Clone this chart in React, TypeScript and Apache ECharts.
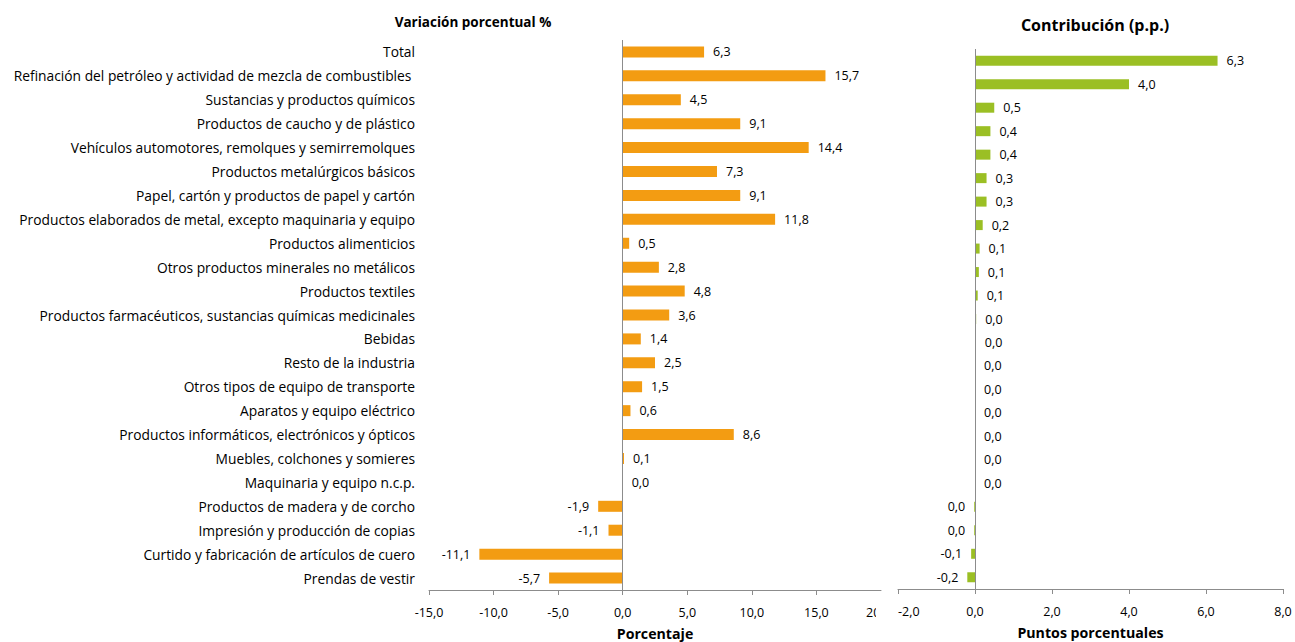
import React, { useEffect, useRef } from "react";
import * as echarts from "echarts";

const categories = [
  "Total",
  "Refinación del petróleo y actividad de mezcla de combustibles ",
  "Sustancias y productos químicos",
  "Productos de caucho y de plástico",
  "Vehículos automotores, remolques y semirremolques",
  "Productos metalúrgicos básicos",
  "Papel, cartón y productos de papel y cartón",
  "Productos elaborados de metal, excepto maquinaria y equipo",
  "Productos alimenticios",
  "Otros productos minerales no metálicos",
  "Productos textiles",
  "Productos farmacéuticos, sustancias químicas medicinales",
  "Bebidas",
  "Resto de la industria",
  "Otros tipos de equipo de transporte",
  "Aparatos y equipo eléctrico",
  "Productos informáticos, electrónicos y ópticos",
  "Muebles, colchones y somieres",
  "Maquinaria y equipo n.c.p.",
  "Productos de madera y de corcho",
  "Impresión y producción de copias",
  "Curtido y fabricación de artículos de cuero",
  "Prendas de vestir",
];

const variacion = [
  6.3, 15.7, 4.5, 9.1, 14.4, 7.3, 9.1, 11.8, 0.5, 2.8, 4.8, 3.6, 1.4, 2.5, 1.5,
  0.6, 8.6, 0.1, 0.0, -1.9, -1.1, -11.1, -5.7,
];

const contribucion = [
  6.3, 4.0, 0.5, 0.4, 0.4, 0.3, 0.3, 0.2, 0.12, 0.1, 0.07, 0.03, 0.02, 0.0,
  0.0, 0.0, 0.0, 0.0, 0.0, -0.02, -0.02, -0.1, -0.2,
];

const leftTicks = [-15, 20, 5];
const rightTicks = [-2, 8, 2];

const FONT = "'Open Sans', 'Noto Sans', sans-serif";
const ORANGE = "#F39C12";
const GREEN = "#9BBF24";
const AXIS = "#8C8C8C";

function fmt(v: number): string {
  const r = Math.round(v * 10) / 10;
  if (r === 0) return "0,0";
  return r.toFixed(1).replace(".", ",");
}

export default function App() {
  const ref = useRef<HTMLDivElement>(null);

  useEffect(() => {
    if (!ref.current) return;
    const chart = echarts.init(ref.current, undefined, { renderer: "svg" });

    const mkData = (vals: number[]) =>
      vals.map((v) => ({
        value: v,
        label: { position: v < 0 ? "left" : "right" },
      }));

    const valueAxis = (gridIndex: number, ticks: number[], name: string, extraLabel: any) => ({
      gridIndex,
      type: "value",
      min: ticks[0],
      max: ticks[1],
      interval: ticks[2],
      splitLine: { show: false },
      splitArea: { show: false },
      axisLine: { show: true, onZero: false, lineStyle: { color: AXIS } },
      axisTick: { show: true, inside: false, length: 5, lineStyle: { color: AXIS } },
      axisLabel: {
        formatter: (v: number) => fmt(v),
        fontSize: 12.5,
        color: "#000",
        fontFamily: FONT,
        margin: 16,
        ...extraLabel,
      },
      name,
      nameLocation: "middle",
      nameGap: 36,
      nameTextStyle: { fontWeight: "bold", fontSize: 14.2, color: "#000", fontFamily: FONT },
    });

    const option: any = {
      animation: false,
      backgroundColor: "#ffffff",
      textStyle: { fontFamily: FONT },
      grid: [
        { show: false, outerBoundsMode: "none", left: 429, right: 414, top: 40, bottom: 52, containLabel: false },
        { show: false, outerBoundsMode: "none", left: 898, right: 12, top: 49, bottom: 53, containLabel: false },
      ],
      xAxis: [
        valueAxis(0, leftTicks, "Porcentaje", { showMaxLabel: false }),
        valueAxis(1, rightTicks, "Puntos porcentuales", { alignMinLabel: "left" }),
      ],
      yAxis: [
        {
          gridIndex: 0,
          type: "category",
          inverse: true,
          data: categories,
          splitLine: { show: false },
          axisLine: { show: false, onZero: false },
          axisTick: { show: false },
          axisLabel: {
            color: "#000",
            fontSize: 13.8,
            fontFamily: FONT,
            margin: 14,
          },
        },
        {
          gridIndex: 1,
          type: "category",
          inverse: true,
          data: categories,
          splitLine: { show: false },
          axisLine: { show: false },
          axisTick: { show: false },
          axisLabel: { show: false },
        },
      ],
      series: [
        {
          type: "bar",
          xAxisIndex: 0,
          yAxisIndex: 0,
          data: mkData(variacion),
          barWidth: 11,
          itemStyle: { color: ORANGE },
          label: {
            show: true,
            distance: 9,
            color: "#000",
            fontSize: 12.5,
            fontFamily: FONT,
            formatter: (p: any) => fmt(p.value),
          },
          markLine: {
            silent: true,
            symbol: "none",
            label: { show: false },
            lineStyle: { color: AXIS, type: "solid", width: 1 },
            data: [{ xAxis: 0 }],
          },
        },
        {
          type: "bar",
          xAxisIndex: 1,
          yAxisIndex: 1,
          data: mkData(contribucion),
          barWidth: 10,
          itemStyle: { color: GREEN },
          label: {
            show: true,
            distance: 9,
            color: "#000",
            fontSize: 12.5,
            fontFamily: FONT,
            formatter: (p: any) => fmt(p.value),
          },
          markLine: {
            silent: true,
            symbol: "none",
            label: { show: false },
            lineStyle: { color: AXIS, type: "solid", width: 1 },
            data: [{ xAxis: 0 }],
          },
        },
      ],
      graphic: [
        {
          type: "text",
          z: 100,
          x: 866,
          y: 612,
          style: {
            text: "20",
            fontSize: 12.5,
            fontFamily: FONT,
            fill: "#000",
            align: "left",
            verticalAlign: "middle",
          },
        },
        {
          type: "rect",
          z: 101,
          shape: { x: 876, y: 600, width: 11, height: 24 },
          style: { fill: "#ffffff" },
        },
        {
          type: "text",
          z: 102,
          x: 473,
          y: 22,
          style: {
            text: "Variación porcentual %",
            fontSize: 13.5,
            fontWeight: "bold",
            fontFamily: FONT,
            fill: "#000",
            align: "center",
            verticalAlign: "middle",
          },
        },
        {
          type: "text",
          z: 102,
          x: 1095,
          y: 25,
          style: {
            text: "Contribución (p.p.)",
            fontSize: 16,
            fontWeight: "bold",
            fontFamily: FONT,
            fill: "#000",
            align: "center",
            verticalAlign: "middle",
          },
        },
      ],
    };

    chart.setOption(option);
    return () => chart.dispose();
  }, []);

  return (
    <div
      ref={ref}
      style={{ position: "absolute", left: 0, top: 0, width: 1295, height: 642, background: "#fff" }}
    />
  );
}
